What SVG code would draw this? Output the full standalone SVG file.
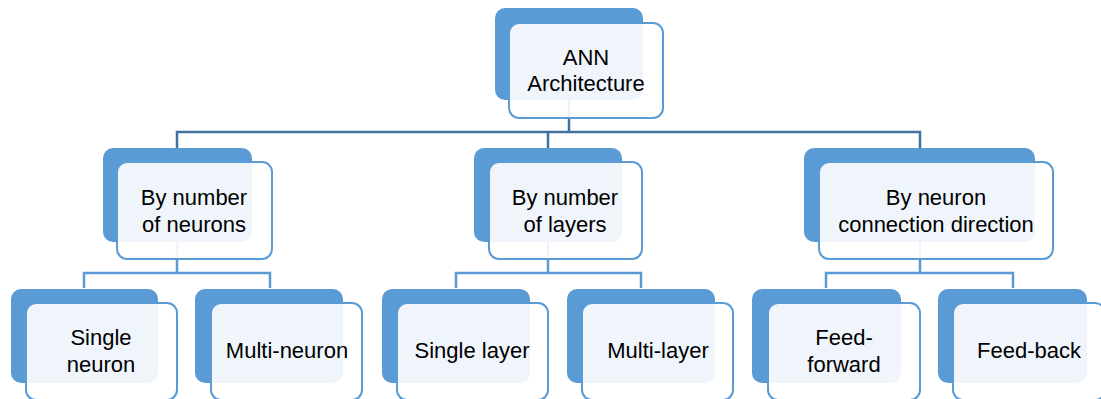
<svg xmlns="http://www.w3.org/2000/svg" width="1101" height="399" viewBox="0 0 1101 399">
<style>
.back{fill:#5B9BD5;}
.front{fill:#FFFFFF;fill-opacity:0.9;stroke:#5B9BD5;stroke-width:2;}
.t{font-family:"Liberation Sans",Arial,sans-serif;font-size:22px;fill:#000;text-anchor:middle;}
.c1{fill:none;stroke:#41719C;stroke-width:2.5;}
.c2{fill:none;stroke:#5B9BD5;stroke-width:2.5;}
</style>
<rect width="1101" height="399" fill="#FFFFFF"/>
<g id="connectors">
<path class="c1" d="M569 100 V132 M177 148 V132 H920 V148 M548 132 V148"/>
<path class="c2" d="M177 242 V273 M84 288 V273 H270 V288"/>
<path class="c2" d="M548 242 V273 M456 288 V273 H641 V288"/>
<path class="c2" d="M920 242 V273 M826 288 V273 H1013 V288"/>
</g>
<g id="ann">
<rect class="back" x="495" y="8" width="148" height="92" rx="10"/>
<rect class="front" x="509" y="23" width="154" height="95" rx="10"/>
<text class="t" x="586" y="65">ANN</text>
<text class="t" x="586" y="91">Architecture</text>
</g>
<g id="neurons">
<rect class="back" x="103" y="148" width="149" height="94" rx="10"/>
<rect class="front" x="117" y="162" width="155" height="97" rx="10"/>
<text class="t" x="194" y="205">By number</text>
<text class="t" x="194" y="232">of neurons</text>
</g>
<g id="layers">
<rect class="back" x="474" y="148" width="148" height="94" rx="10"/>
<rect class="front" x="489" y="162" width="153" height="97" rx="10"/>
<text class="t" x="565" y="205">By number</text>
<text class="t" x="565" y="232">of layers</text>
</g>
<g id="direction">
<rect class="back" x="804" y="148" width="231" height="94" rx="10"/>
<rect class="front" x="819" y="162" width="234" height="97" rx="10"/>
<text class="t" x="936" y="205">By neuron</text>
<text class="t" x="936" y="232">connection direction</text>
</g>
<g id="single-neuron">
<rect class="back" x="11" y="289" width="147" height="94" rx="10"/>
<rect class="front" x="26" y="303" width="151" height="97" rx="10"/>
<text class="t" x="101" y="345">Single</text>
<text class="t" x="101" y="372">neuron</text>
</g>
<g id="multi-neuron">
<rect class="back" x="195" y="289" width="148" height="94" rx="10"/>
<rect class="front" x="211" y="303" width="151" height="97" rx="10"/>
<text class="t" x="287" y="358">Multi-neuron</text>
</g>
<g id="single-layer">
<rect class="back" x="382" y="289" width="148" height="94" rx="10"/>
<rect class="front" x="397" y="303" width="151" height="97" rx="10"/>
<text class="t" x="472" y="358">Single layer</text>
</g>
<g id="multi-layer">
<rect class="back" x="567" y="289" width="148" height="94" rx="10"/>
<rect class="front" x="582" y="303" width="151" height="97" rx="10"/>
<text class="t" x="658" y="358">Multi-layer</text>
</g>
<g id="feed-forward">
<rect class="back" x="752" y="289" width="149" height="94" rx="10"/>
<rect class="front" x="768" y="303" width="152" height="97" rx="10"/>
<text class="t" x="844" y="345">Feed-</text>
<text class="t" x="844" y="372">forward</text>
</g>
<g id="feed-back">
<rect class="back" x="938" y="289" width="149" height="94" rx="10"/>
<rect class="front" x="953" y="303" width="152" height="97" rx="10"/>
<text class="t" x="1029" y="358">Feed-back</text>
</g>
</svg>
